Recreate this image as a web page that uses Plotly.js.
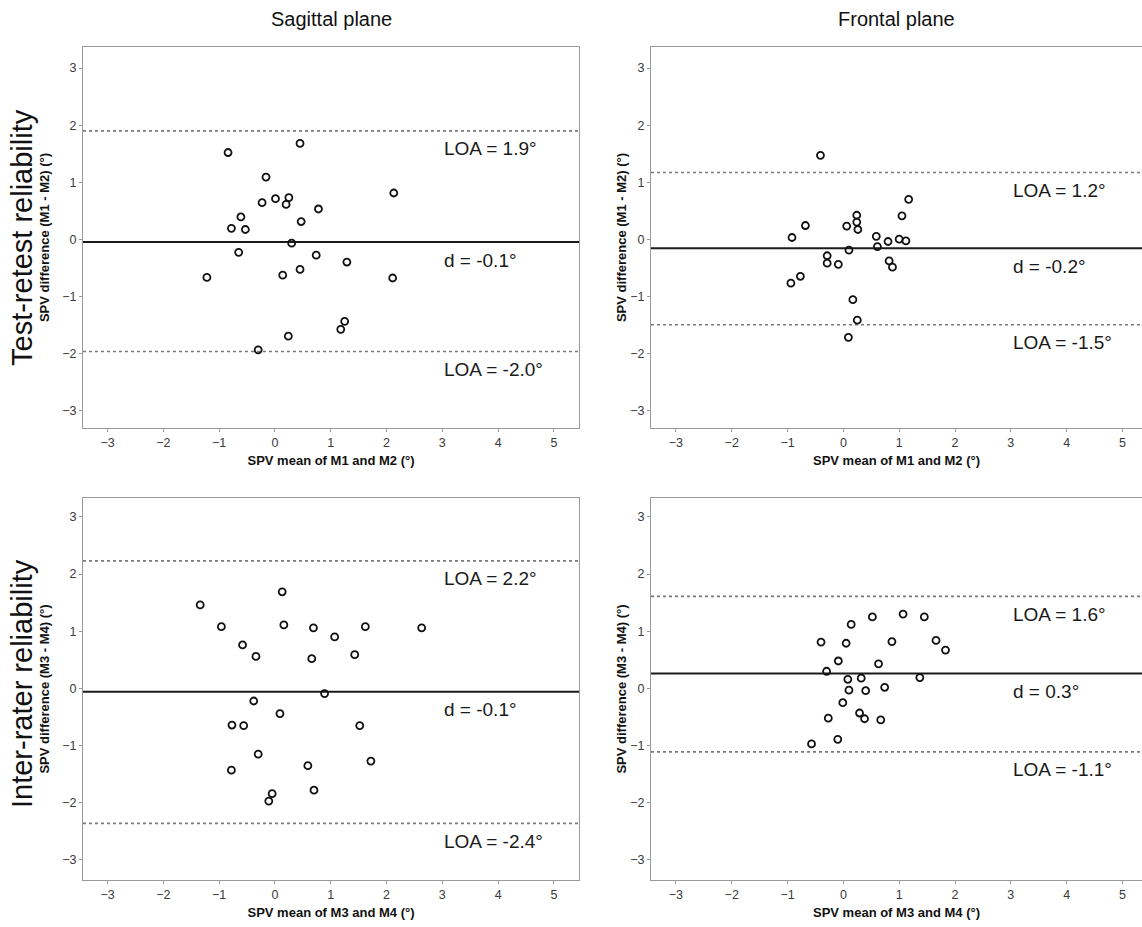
<!DOCTYPE html>
<html>
<head>
<meta charset="utf-8">
<script src="https://cdn.plot.ly/plotly-3.0.1.min.js"></script>
<style>html,body{margin:0;padding:0;background:#fff;}#chart{width:1142px;height:927px;}</style>
</head>
<body>
<div id="chart"></div>
<script>
// ---- Data ----
const columnTitles = ["Sagittal plane", "Frontal plane"];
const rowTitles = ["Test-retest reliability", "Inter-rater reliability"];
const xTitles = ["SPV mean of M1 and M2 (°)", "SPV mean of M1 and M2 (°)", "SPV mean of M3 and M4 (°)", "SPV mean of M3 and M4 (°)"];
const yTitles = ["SPV difference (M1 - M2) (°)", "SPV difference (M1 - M2) (°)", "SPV difference (M3 - M4) (°)", "SPV difference (M3 - M4) (°)"];
const xTickVals = [-3, -2, -1, 0, 1, 2, 3, 4, 5];
const yTickVals = [-3, -2, -1, 0, 1, 2, 3];

// Panel 1: Sagittal, test-retest
const sagTR_mean = [-0.84, 0.45, -0.16, 2.13, -0.23, 0.01, 0.25, 0.20, 0.78, -0.61, 0.47, -0.78, -0.53, 0.30, -0.65, 0.74, 1.29, -1.22, 0.14, 0.45, 2.11, 1.25, 1.18, 0.24, -0.30];
const sagTR_diff = [1.52, 1.68, 1.09, 0.81, 0.64, 0.71, 0.73, 0.61, 0.53, 0.39, 0.31, 0.19, 0.17, -0.07, -0.23, -0.28, -0.40, -0.67, -0.63, -0.53, -0.68, -1.44, -1.58, -1.70, -1.94];
// Panel 2: Frontal, test-retest
const froTR_mean = [-0.41, 1.17, 1.05, 0.24, 0.24, 0.26, 0.06, -0.68, -0.92, 0.59, 1.00, 1.12, 0.80, 0.61, 0.10, -0.29, -0.29, -0.09, 0.82, 0.88, -0.77, -0.94, 0.17, 0.25, 0.09];
const froTR_diff = [1.47, 0.70, 0.41, 0.42, 0.30, 0.17, 0.23, 0.24, 0.03, 0.05, 0.00, -0.03, -0.04, -0.13, -0.19, -0.29, -0.42, -0.44, -0.38, -0.49, -0.65, -0.77, -1.06, -1.42, -1.72];
// Panel 3: Sagittal, inter-rater
const sagIR_mean = [0.13, -1.34, -0.96, 0.16, 0.69, 1.62, 2.63, 1.07, -0.58, -0.34, 0.66, 1.43, 0.89, -0.38, 0.09, -0.77, -0.56, 1.52, -0.30, -0.78, 0.59, 1.72, 0.70, -0.05, -0.11];
const sagIR_diff = [1.69, 1.46, 1.08, 1.11, 1.06, 1.08, 1.06, 0.90, 0.76, 0.56, 0.52, 0.59, -0.09, -0.22, -0.44, -0.64, -0.65, -0.65, -1.15, -1.43, -1.35, -1.27, -1.78, -1.84, -1.97];
// Panel 4: Frontal, inter-rater
const froIR_mean = [1.07, 0.52, 1.45, 0.14, -0.40, 0.05, 0.87, 1.66, 1.83, -0.09, 0.63, -0.30, 0.08, 0.32, 1.37, 0.10, 0.40, 0.74, -0.01, 0.29, 0.38, -0.27, 0.67, -0.10, -0.57];
const froIR_diff = [1.30, 1.25, 1.25, 1.12, 0.81, 0.79, 0.82, 0.84, 0.67, 0.48, 0.43, 0.30, 0.16, 0.18, 0.19, -0.03, -0.04, 0.02, -0.25, -0.43, -0.53, -0.52, -0.55, -0.89, -0.97];

// Bias (d) and limits of agreement (upper, lower) per panel
const biasLine = [-0.05, -0.16, -0.06, 0.26];
const upperLOA = [1.90, 1.17, 2.23, 1.61];
const lowerLOA = [-1.97, -1.50, -2.36, -1.11];
const biasText = ["d = -0.1°", "d = -0.2°", "d = -0.1°", "d = 0.3°"];
const upperText = ["LOA = 1.9°", "LOA = 1.2°", "LOA = 2.2°", "LOA = 1.6°"];
const lowerText = ["LOA = -2.0°", "LOA = -1.5°", "LOA = -2.4°", "LOA = -1.1°"];
const labelX = 3.0;

const meansAll = [sagTR_mean, froTR_mean, sagIR_mean, froIR_mean];
const diffsAll = [sagTR_diff, froTR_diff, sagIR_diff, froIR_diff];

// ---- Layout geometry ----
const W = 1142, H = 927;
const px = v => v / W, py = v => 1 - v / H;
const xDom = [[px(83), px(579)], [px(651), 1], [px(83), px(579)], [px(651), 1]];
const yDom = [[py(428), py(47)], [py(428), py(47)], [py(880), py(498)], [py(880), py(498)]];
const xRng = [[-3.44, 5.45], [-3.446, 5.35], [-3.44, 5.45], [-3.446, 5.35]];
const yRng = [[-3.31, 3.37], [-3.31, 3.37], [-3.35, 3.33], [-3.35, 3.33]];
const yStandoff = [9, 0, 9, 0];

const font = "Arial, 'Liberation Sans', Helvetica, sans-serif";
const axisGray = "#9a9a9a";

const traces = [];
const shapes = [];
const annotations = [];
const layout = {
  width: W, height: H,
  margin: {l: 0, r: 0, t: 0, b: 0},
  paper_bgcolor: "#fff", plot_bgcolor: "#fff",
  showlegend: false,
  font: {family: font, color: "#222"},
};

for (let i = 0; i < 4; i++) {
  const sfx = i === 0 ? "" : String(i + 1);
  const xa = "x" + sfx, ya = "y" + sfx;
  traces.push({
    type: "scatter", mode: "markers",
    x: meansAll[i], y: diffsAll[i],
    xaxis: xa, yaxis: ya,
    marker: {symbol: "circle-open", size: 7, color: "#111", line: {width: 1.8, color: "#111"}},
    hoverinfo: "x+y",
  });
  layout["xaxis" + sfx] = {
    domain: xDom[i], range: xRng[i], anchor: ya,
    tickvals: xTickVals, ticks: "outside", ticklen: 3, tickwidth: 1, tickcolor: axisGray,
    tickfont: {size: 12.5, color: "#3a3a3a", family: font},
    showline: true, linecolor: axisGray, linewidth: 1, mirror: true,
    showgrid: false, zeroline: false,
    title: {text: xTitles[i], font: {size: 13, family: font, color: "#111", weight: "bold"}, standoff: 6},
  };
  layout["yaxis" + sfx] = {
    domain: yDom[i], range: yRng[i], anchor: xa,
    tickvals: yTickVals, ticks: "outside", ticklen: 3, tickwidth: 1, tickcolor: axisGray,
    tickfont: {size: 12.5, color: "#3a3a3a", family: font},
    showline: true, linecolor: axisGray, linewidth: 1, mirror: true,
    showgrid: false, zeroline: false,
    title: {text: yTitles[i], font: {size: 13, family: font, color: "#111", weight: "bold"}, standoff: yStandoff[i]},
  };
  // LOA lines (dotted) and bias line (solid)
  [upperLOA[i], lowerLOA[i]].forEach(v => shapes.push({
    type: "line", xref: xa + " domain", yref: ya, x0: 0, x1: 1, y0: v, y1: v,
    line: {color: "#7a7a7a", width: 1.6, dash: "dot"}, layer: "below",
  }));
  shapes.push({
    type: "line", xref: xa + " domain", yref: ya, x0: 0, x1: 1, y0: biasLine[i], y1: biasLine[i],
    line: {color: "#1a1a1a", width: 2}, layer: "below",
  });
  const labs = [[upperLOA[i], upperText[i]], [biasLine[i], biasText[i]], [lowerLOA[i], lowerText[i]]];
  labs.forEach(([v, t]) => annotations.push({
    xref: xa, yref: ya, x: labelX, y: v, text: t, showarrow: false,
    xanchor: "left", yanchor: "middle", yshift: -18,
    font: {size: 19, family: font, color: "#1a1a1a"},
  }));
}

// Column titles
[[331, columnTitles[0]], [896, columnTitles[1]]].forEach(([cx, t]) => annotations.push({
  xref: "paper", yref: "paper", x: px(cx), y: py(19), text: t, showarrow: false,
  xanchor: "center", yanchor: "middle", font: {size: 20, family: font, color: "#111"},
}));
// Row titles
[[238, rowTitles[0]], [684, rowTitles[1]]].forEach(([cy, t]) => annotations.push({
  xref: "paper", yref: "paper", x: px(22), y: py(cy), text: t, showarrow: false, textangle: -90,
  xanchor: "center", yanchor: "middle", font: {size: 29, family: font, color: "#111"},
}));

layout.shapes = shapes;
layout.annotations = annotations;

Plotly.newPlot("chart", traces, layout, {displayModeBar: false, staticPlot: true});
</script>
</body>
</html>
